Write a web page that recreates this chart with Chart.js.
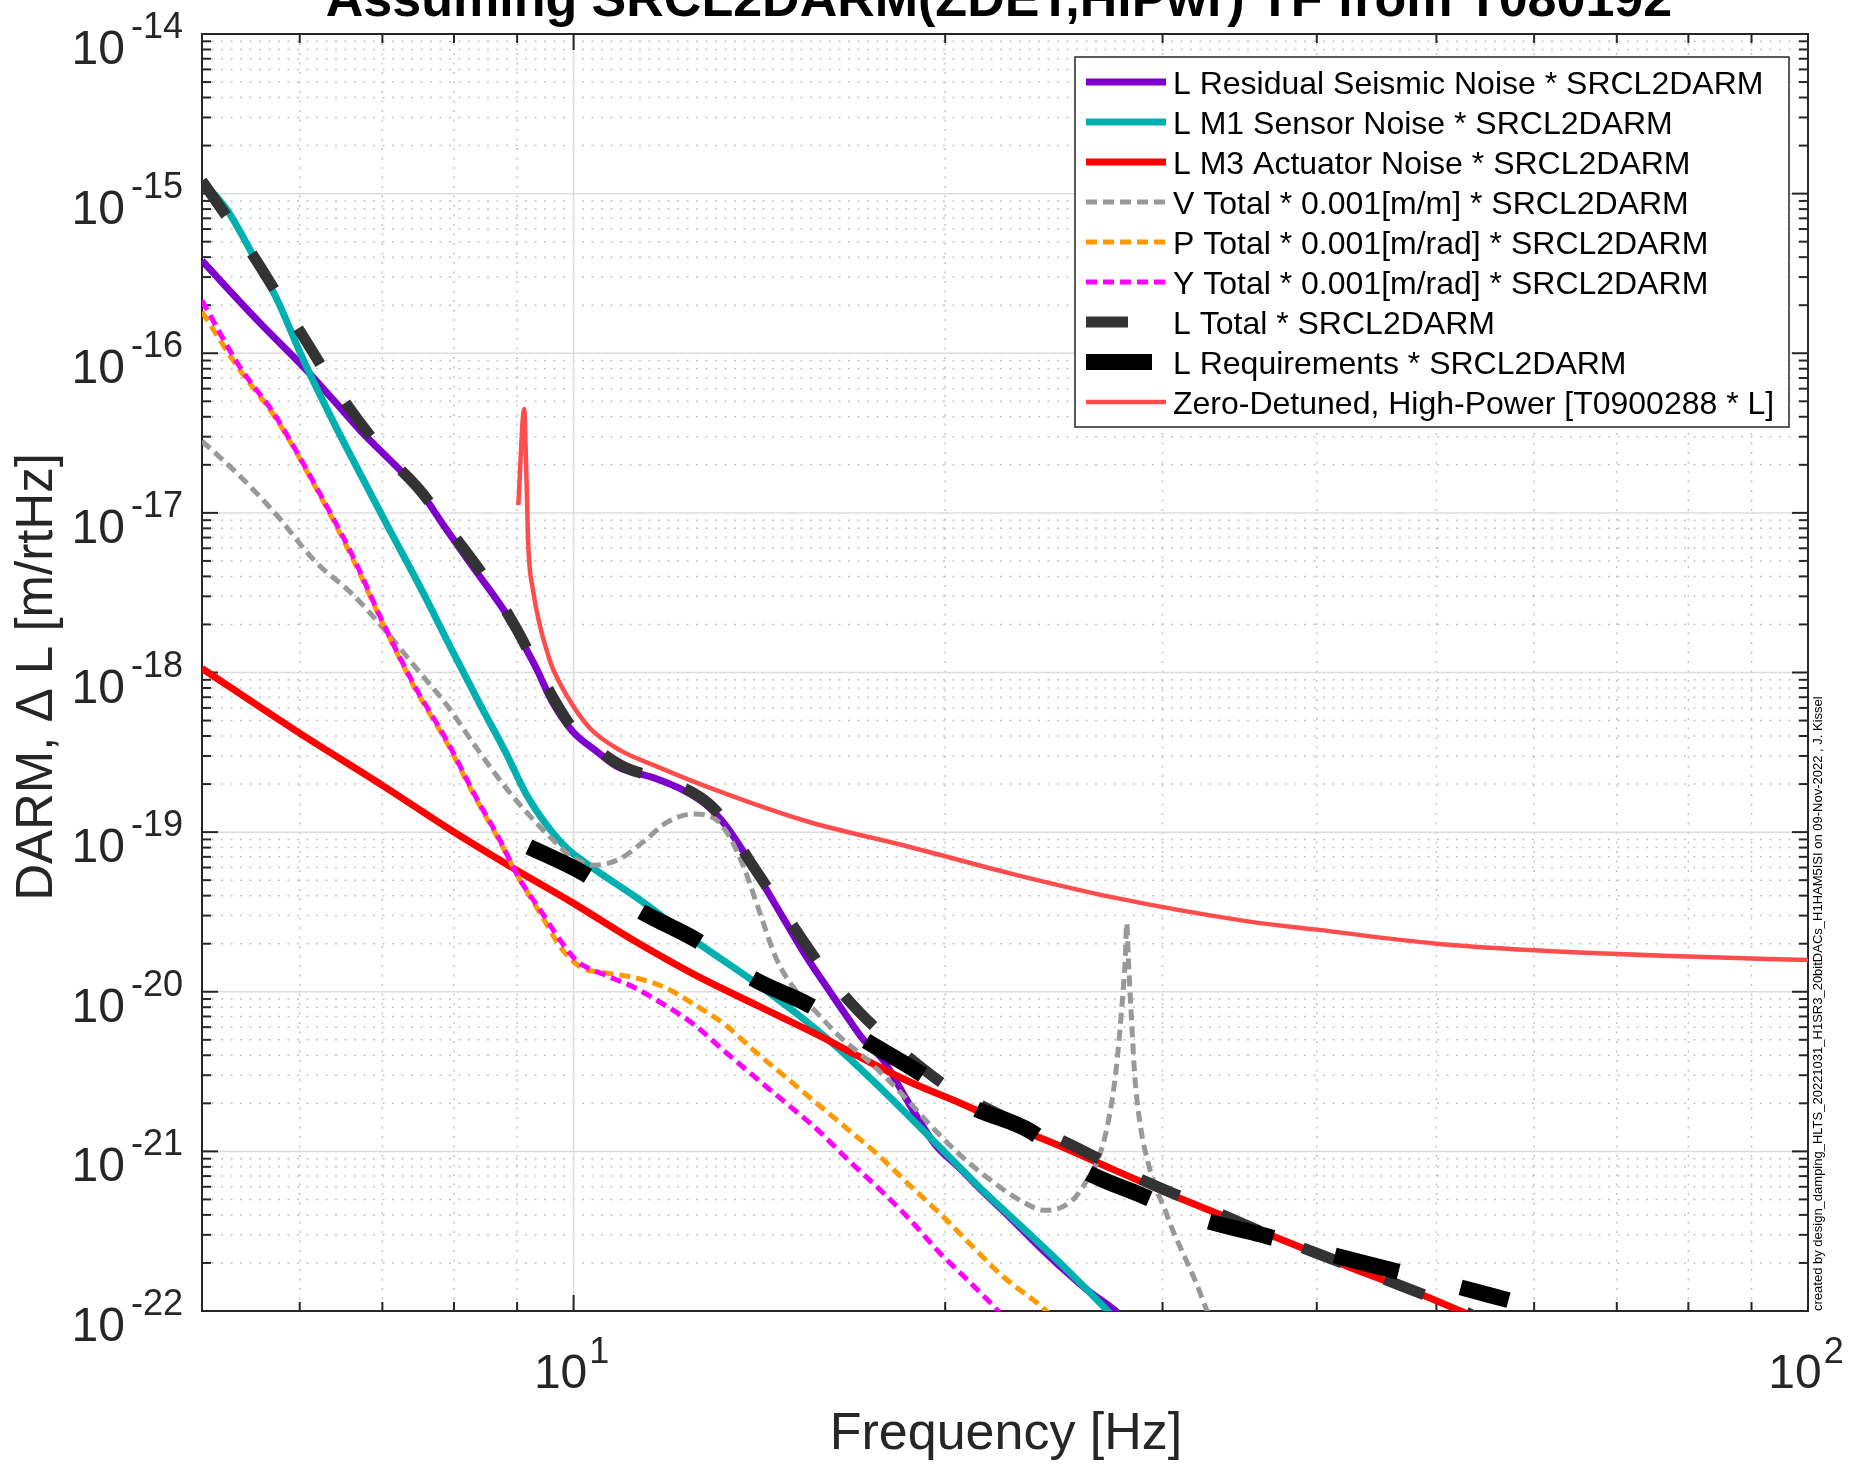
<!DOCTYPE html>
<html>
<head>
<meta charset="utf-8">
<title>SRCL2DARM noise budget</title>
<script src="https://cdn.jsdelivr.net/npm/chart.js@4.4.1/dist/chart.umd.min.js"></script>
<style>
  html, body { margin: 0; padding: 0; background: #fff; }
  canvas { display: block; }
</style>
</head>
<body>
<canvas id="chart" width="1851" height="1465"></canvas>
<script>
// ASD curves, frequency in Hz, ASD in m/rtHz.
const seismicFreq = [5.0, 5.54, 6.07, 6.39, 6.72, 7.16, 7.53, 7.86, 8.32, 8.81, 9.04, 9.33, 9.60, 9.97, 10.46, 10.86, 11.61, 12.29, 12.77, 13.27, 13.78, 14.32, 14.87, 15.45, 16.05, 16.67, 17.15, 17.82, 18.69, 19.60, 20.56, 21.56, 22.61, 23.71, 24.86, 26.08, 27.48, 28.5];
const seismicAsd = [3.8e-16, 1.62e-16, 7.9e-17, 5.08e-17, 3.27e-17, 2.01e-17, 1.33e-17, 8.2e-18, 4.4e-18, 2.36e-18, 1.67e-18, 1.06e-18, 6.65e-19, 4.32e-19, 3.17e-19, 2.56e-19, 2.19e-19, 1.82e-19, 1.51e-19, 1.11e-19, 7.2e-20, 4.4e-20, 2.69e-20, 1.64e-20, 1.06e-20, 6.9e-21, 5.07e-21, 3.72e-21, 2.0e-21, 1.12e-21, 7.8e-22, 5.4e-22, 3.8e-22, 2.63e-22, 1.86e-22, 1.35e-22, 1.0e-22, 7.6e-23];

const sensorFreq = [5.0, 5.24, 5.54, 5.74, 6.04, 6.39, 6.72, 7.11, 7.53, 7.97, 8.40, 8.81, 9.15, 9.50, 9.88, 10.26, 11.39, 12.53, 13.91, 15.45, 16.36, 17.82, 19.60, 21.35, 23.04, 24.86, 27.09, 28.0];
const sensorAsd = [1.2e-15, 7.9e-16, 3.7e-16, 2.24e-16, 9.1e-17, 3.7e-17, 1.74e-17, 7.6e-18, 3.3e-18, 1.38e-18, 6.3e-19, 3.16e-19, 1.74e-19, 1.12e-19, 7.9e-20, 6.3e-20, 3.63e-20, 2.09e-20, 1.2e-20, 6.5e-21, 4.47e-21, 2.4e-21, 1.15e-21, 5.9e-22, 3.4e-22, 1.95e-22, 1.0e-22, 7.6e-23];

const actuatorFreq = [5.0, 5.95, 7.01, 7.97, 9.0, 9.97, 11.18, 12.53, 14.04, 15.74, 16.99, 18.69, 20.56, 22.61, 24.86, 27.4, 30.06, 33.0, 36.46, 40.0, 43.89, 48.5, 52.3, 56.0];
const actuatorAsd = [1.06e-18, 4.34e-19, 1.95e-19, 1.02e-19, 5.75e-20, 3.63e-20, 2.1e-20, 1.28e-20, 8.3e-21, 5.4e-21, 3.96e-21, 2.74e-21, 2.01e-21, 1.45e-21, 1.07e-21, 7.66e-22, 5.61e-22, 4.17e-22, 3.05e-22, 2.28e-22, 1.71e-22, 1.28e-22, 1.0e-22, 7.9e-23];

const vTotalFreq = [5.0, 5.35, 5.74, 6.17, 6.62, 7.06, 7.43, 7.90, 8.36, 8.85, 9.35, 9.60, 9.92, 10.40, 10.90, 11.39, 11.90, 12.50, 13.00, 13.36, 13.75, 14.18, 14.59, 15.16, 15.74, 16.36, 17.32, 18.34, 19.42, 20.56, 21.77, 23.04, 24.10, 25.33, 26.06, 26.60, 27.10, 27.50, 27.80, 27.98, 28.06, 28.15, 28.30, 28.50, 28.80, 29.20, 29.60, 30.10, 30.60, 31.30, 32.00, 32.60, 33.20];
const vTotalAsd = [2.82e-17, 1.74e-17, 9.8e-18, 5.0e-18, 3.09e-18, 1.78e-18, 1.1e-18, 6.2e-19, 3.3e-19, 1.82e-19, 1.12e-19, 9.1e-20, 7.2e-20, 6.2e-20, 6.8e-20, 8.7e-20, 1.15e-19, 1.3e-19, 1.22e-19, 9.5e-20, 5.9e-20, 3.0e-20, 1.62e-20, 1.0e-20, 7.4e-21, 5.4e-21, 3.7e-21, 2.4e-21, 1.48e-21, 9.5e-22, 6.6e-22, 4.9e-22, 4.27e-22, 4.9e-22, 6.6e-22, 8.9e-22, 1.51e-21, 3.16e-21, 7.9e-21, 1.58e-20, 2.69e-20, 1.58e-20, 7.1e-21, 2.82e-21, 1.41e-21, 8.5e-22, 6.0e-22, 4.4e-22, 3.16e-22, 2.14e-22, 1.45e-22, 1.0e-22, 7.6e-23];

const pTotalFreq = [5.0, 5.35, 5.74, 6.17, 6.62, 7.01, 7.43, 7.90, 8.32, 8.73, 9.0, 9.42, 9.78, 10.16, 10.56, 11.18, 11.84, 12.53, 13.27, 14.04, 14.87, 15.74, 16.67, 17.65, 18.69, 19.79, 20.95, 22.17, 24.16, 24.9];
const pTotalAsd = [1.82e-16, 8.1e-17, 3.9e-17, 1.48e-17, 5.2e-18, 2.0e-18, 8.1e-19, 3.6e-19, 1.66e-19, 8.5e-20, 5.4e-20, 3.0e-20, 1.86e-20, 1.41e-20, 1.32e-20, 1.23e-20, 1.07e-20, 8.3e-21, 6.2e-21, 4.2e-21, 2.9e-21, 2.0e-21, 1.38e-21, 9.5e-22, 6.2e-22, 4.1e-22, 2.63e-22, 1.7e-22, 1.0e-22, 7.9e-23];

const yTotalFreq = [5.0, 5.35, 5.74, 6.17, 6.62, 7.01, 7.43, 7.90, 8.32, 8.73, 9.0, 9.42, 9.78, 10.07, 10.56, 11.18, 11.84, 12.53, 13.27, 14.04, 14.87, 15.74, 16.67, 17.65, 18.69, 19.79, 20.95, 22.08, 22.8];
const yTotalAsd = [2.14e-16, 8.5e-17, 4.0e-17, 1.51e-17, 5.4e-18, 2.04e-18, 8.3e-19, 3.7e-19, 1.7e-19, 8.7e-20, 5.4e-20, 3.16e-20, 2.04e-20, 1.55e-20, 1.29e-20, 1.07e-20, 8.3e-21, 6.2e-21, 4.2e-21, 2.9e-21, 2.0e-21, 1.38e-21, 8.9e-22, 5.9e-22, 3.8e-22, 2.32e-22, 1.51e-22, 1.0e-22, 7.6e-23];

const lTotalFreq = [5.0, 5.5, 6.0, 6.5, 7.0, 7.5, 8.0, 8.5, 9.0, 9.5, 10.0, 10.5, 11.0, 12.0, 13.0, 14.0, 15.0, 16.0, 17.0, 18.0, 19.0, 20.0, 22.0, 25.0, 28.0, 32.0, 36.0, 40.0, 45.0, 52.3, 56.0];
const lTotalAsd = [1.2e-15, 4.1e-16, 1.38e-16, 5.2e-17, 2.45e-17, 1.4e-17, 7.2e-18, 3.8e-18, 1.85e-18, 8.3e-19, 4.4e-19, 3.2e-19, 2.55e-19, 2.05e-19, 1.4e-19, 6.0e-20, 2.7e-20, 1.32e-20, 7.6e-21, 5.0e-21, 3.5e-21, 2.6e-21, 1.74e-21, 1.15e-21, 7.4e-22, 4.7e-22, 3.16e-22, 2.3e-22, 1.62e-22, 1.02e-22, 7.9e-23];

const reqFreq = [9.2, 10.2, 11.3, 12.6, 14.0, 15.5, 17.2, 19.0, 21.0, 23.4, 25.9, 28.7, 32.1, 36.1, 40.4, 45.3, 51.0, 57.2];
const reqAsd = [8.1e-20, 5.5e-20, 3.24e-20, 2.09e-20, 1.2e-20, 8.3e-21, 5.0e-21, 3.16e-21, 1.91e-21, 1.35e-21, 7.6e-22, 5.4e-22, 3.8e-22, 3.0e-22, 2.34e-22, 1.86e-22, 1.48e-22, 1.17e-22];

const zdhpFreq = [9.02, 9.12, 9.15, 9.19, 9.27, 9.40, 9.51, 9.60, 9.88, 10.31, 10.92, 11.61, 12.77, 15.45, 18.69, 22.61, 27.35, 35.29, 40.0, 50.0, 60.0, 80.0, 100.0];
const zdhpAsd = [1.12e-17, 4.47e-17, 2.14e-17, 6.2e-18, 3.3e-18, 1.91e-18, 1.38e-18, 1.1e-18, 7.1e-19, 4.47e-19, 3.24e-19, 2.63e-19, 1.95e-19, 1.17e-19, 8.1e-20, 5.5e-20, 3.9e-20, 2.75e-20, 2.45e-20, 2.0e-20, 1.82e-20, 1.66e-20, 1.58e-20];

// Axis limits and tick values.
const X_MIN = 5, X_MAX = 100;
const X_MAJOR = [10, 100];
const X_MINOR = [6, 7, 8, 9, 20, 30, 40, 50, 60, 70, 80, 90];
const Y_EXPONENTS = [-22, -21, -20, -19, -18, -17, -16, -15, -14];

const TITLE = "Assuming SRCL2DARM(ZDET,HiPwr) TF from T080192";
const X_TITLE = "Frequency [Hz]";
const Y_TITLE = "DARM, \u0394 L [m/rtHz]";
const STAMP = "created by design_damping_HLTS_20221031_H1SR3_20bitDACs_H1HAM5ISI on 09-Nov-2022 , J. Kissel";

const FONT = '"Liberation Sans", Arial, Helvetica, sans-serif';
const INK = "#262626";
const DASH_DOT = [11, 6];

const SERIES = [
  { label: "L Residual Seismic Noise * SRCL2DARM", freq: seismicFreq, asd: seismicAsd, color: "#7F00CC", width: 7, dash: [] },
  { label: "L M1 Sensor Noise * SRCL2DARM", freq: sensorFreq, asd: sensorAsd, color: "#00B0B0", width: 7, dash: [] },
  { label: "L M3 Actuator Noise * SRCL2DARM", freq: actuatorFreq, asd: actuatorAsd, color: "#FF0000", width: 7, dash: [] },
  { label: "V Total * 0.001[m/m] * SRCL2DARM", freq: vTotalFreq, asd: vTotalAsd, color: "#999999", width: 5, dash: DASH_DOT },
  { label: "P Total * 0.001[m/rad] * SRCL2DARM", freq: pTotalFreq, asd: pTotalAsd, color: "#FF9900", width: 5, dash: DASH_DOT },
  { label: "Y Total * 0.001[m/rad] * SRCL2DARM", freq: yTotalFreq, asd: yTotalAsd, color: "#FF00FF", width: 5, dash: DASH_DOT },
  { label: "L Total * SRCL2DARM", freq: lTotalFreq, asd: lTotalAsd, color: "#333333", width: 11, dash: [42, 46] },
  { label: "L Requirements * SRCL2DARM", freq: reqFreq, asd: reqAsd, color: "#000000", width: 16, dash: [66, 64] },
  { label: "Zero-Detuned, High-Power [T0900288 * L]", freq: zdhpFreq, asd: zdhpAsd, color: "#FF4D4D", width: 4.5, dash: [] },
];

function line(ctx, x1, y1, x2, y2) {
  ctx.beginPath();
  ctx.moveTo(x1, y1);
  ctx.lineTo(x2, y2);
  ctx.stroke();
}

function yMinorValues() {
  const out = [];
  Y_EXPONENTS.slice(0, -1).forEach((e) => {
    for (let k = 2; k <= 9; k++) out.push(k * Math.pow(10, e));
  });
  return out;
}

// Grid, axes box and inward tick marks, MATLAB style.
function drawFrame(chart) {
  const { ctx, chartArea: a, scales: { x, y } } = chart;
  const yMinor = yMinorValues();
  const yMajor = Y_EXPONENTS.map((e) => Math.pow(10, e));
  ctx.save();

  ctx.strokeStyle = "#c4c4c4";
  ctx.lineWidth = 1.5;
  ctx.setLineDash([2, 7.5]);
  X_MINOR.forEach((f) => { const px = x.getPixelForValue(f); line(ctx, px, a.top, px, a.bottom); });
  yMinor.forEach((v) => { const py = y.getPixelForValue(v); line(ctx, a.left, py, a.right, py); });

  ctx.setLineDash([]);
  ctx.strokeStyle = "#dcdcdc";
  ctx.lineWidth = 1.5;
  X_MAJOR.forEach((f) => { const px = x.getPixelForValue(f); line(ctx, px, a.top, px, a.bottom); });
  yMajor.forEach((v) => { const py = y.getPixelForValue(v); line(ctx, a.left, py, a.right, py); });

  ctx.strokeStyle = INK;
  ctx.lineWidth = 2;
  const tick = (px, len, vertical) => {
    if (vertical) { line(ctx, px, a.bottom, px, a.bottom - len); line(ctx, px, a.top, px, a.top + len); }
    else { line(ctx, a.left, px, a.left + len, px); line(ctx, a.right, px, a.right - len, px); }
  };
  X_MINOR.forEach((f) => tick(x.getPixelForValue(f), 9, true));
  X_MAJOR.forEach((f) => tick(x.getPixelForValue(f), 16, true));
  yMinor.forEach((v) => tick(y.getPixelForValue(v), 9, false));
  yMajor.forEach((v) => tick(y.getPixelForValue(v), 16, false));

  ctx.strokeRect(a.left, a.top, a.right - a.left, a.bottom - a.top);
  ctx.restore();
}

function drawTickLabels(chart) {
  const { ctx, chartArea: a, scales: { x, y } } = chart;
  ctx.save();
  ctx.fillStyle = INK;
  ctx.textBaseline = "alphabetic";

  Y_EXPONENTS.forEach((e) => {
    const py = y.getPixelForValue(Math.pow(10, e));
    const sup = String(e);
    ctx.font = `36px ${FONT}`;
    const w = ctx.measureText(sup).width;
    ctx.textAlign = "right";
    ctx.fillText(sup, a.left - 19, py + 4);
    ctx.font = `48px ${FONT}`;
    ctx.fillText("10", a.left - 19 - w - 6, py + 30);
  });

  X_MAJOR.forEach((f) => {
    const px = x.getPixelForValue(f);
    const sup = String(Math.round(Math.log10(f)));
    ctx.font = `48px ${FONT}`;
    const wb = ctx.measureText("10").width;
    ctx.font = `36px ${FONT}`;
    const ws = ctx.measureText(sup).width;
    const x0 = px - (wb + ws) / 2 - 3;
    ctx.textAlign = "left";
    ctx.font = `48px ${FONT}`;
    ctx.fillText("10", x0, a.bottom + 77);
    ctx.font = `36px ${FONT}`;
    ctx.fillText(sup, x0 + wb + 2, a.bottom + 52);
  });
  ctx.restore();
}

function drawTitles(chart) {
  const { ctx, chartArea: a } = chart;
  ctx.save();
  ctx.textBaseline = "alphabetic";
  ctx.textAlign = "center";

  ctx.fillStyle = "#000";
  ctx.font = `bold 52px ${FONT}`;
  ctx.fillText(TITLE, 999, 16);

  ctx.fillStyle = INK;
  ctx.font = `52px ${FONT}`;
  ctx.fillText(X_TITLE, 1006, 1449);

  ctx.save();
  ctx.translate(52, 677);
  ctx.rotate(-Math.PI / 2);
  ctx.font = `51px ${FONT}`;
  ctx.fillText(Y_TITLE, 0, 0);
  ctx.restore();

  ctx.save();
  ctx.translate(a.right + 14, a.bottom);
  ctx.rotate(-Math.PI / 2);
  ctx.textAlign = "left";
  ctx.fillStyle = "#000";
  ctx.font = `13px ${FONT}`;
  ctx.fillText(STAMP, 0, 0);
  ctx.restore();

  ctx.restore();
}

function drawLegend(chart) {
  const { ctx } = chart;
  const bx = 1075, by = 57, bw = 714, bh = 370;
  ctx.save();
  ctx.fillStyle = "#fff";
  ctx.fillRect(bx, by, bw, bh);
  ctx.strokeStyle = INK;
  ctx.lineWidth = 1.5;
  ctx.strokeRect(bx, by, bw, bh);

  ctx.font = `32px ${FONT}`;
  ctx.textAlign = "left";
  ctx.textBaseline = "alphabetic";
  SERIES.forEach((s, i) => {
    const yc = by + 25 + 40 * i;
    ctx.strokeStyle = s.color;
    ctx.lineWidth = s.width;
    ctx.lineCap = "butt";
    ctx.setLineDash(s.dash);
    ctx.lineDashOffset = 0;
    line(ctx, bx + 11, yc, bx + 91, yc);
    ctx.setLineDash([]);
    ctx.fillStyle = "#000";
    ctx.fillText(s.label, bx + 98, yc + 11.5);
  });
  ctx.restore();
}

const matlabFrame = {
  id: "matlabFrame",
  beforeDraw(chart) {
    const { ctx, width, height } = chart;
    ctx.save();
    ctx.fillStyle = "#fff";
    ctx.fillRect(0, 0, width, height);
    ctx.restore();
  },
  beforeDatasetsDraw(chart) { drawFrame(chart); },
  afterDatasetsDraw(chart) {
    drawTickLabels(chart);
    drawTitles(chart);
    drawLegend(chart);
  },
};

new Chart(document.getElementById("chart"), {
  type: "line",
  data: {
    datasets: SERIES.map((s, i) => ({
      label: s.label,
      data: s.freq.map((f, k) => ({ x: f, y: s.asd[k] })),
      borderColor: s.color,
      backgroundColor: s.color,
      borderWidth: s.width,
      borderDash: s.dash,
      borderCapStyle: "butt",
      borderJoinStyle: "round",
      cubicInterpolationMode: "monotone",
      pointRadius: 0,
      pointHitRadius: 0,
      fill: false,
      // later series are drawn on top, as in the original plot
      order: SERIES.length - i,
    })),
  },
  options: {
    responsive: false,
    devicePixelRatio: 1,
    animation: false,
    events: [],
    layout: { padding: { left: 202, top: 34, right: 43, bottom: 154 } },
    scales: {
      x: { type: "logarithmic", min: X_MIN, max: X_MAX, display: false },
      y: { type: "logarithmic", min: 1e-22, max: 1e-14, display: false },
    },
    plugins: { legend: { display: false }, tooltip: { enabled: false } },
  },
  plugins: [matlabFrame],
});
</script>
</body>
</html>
